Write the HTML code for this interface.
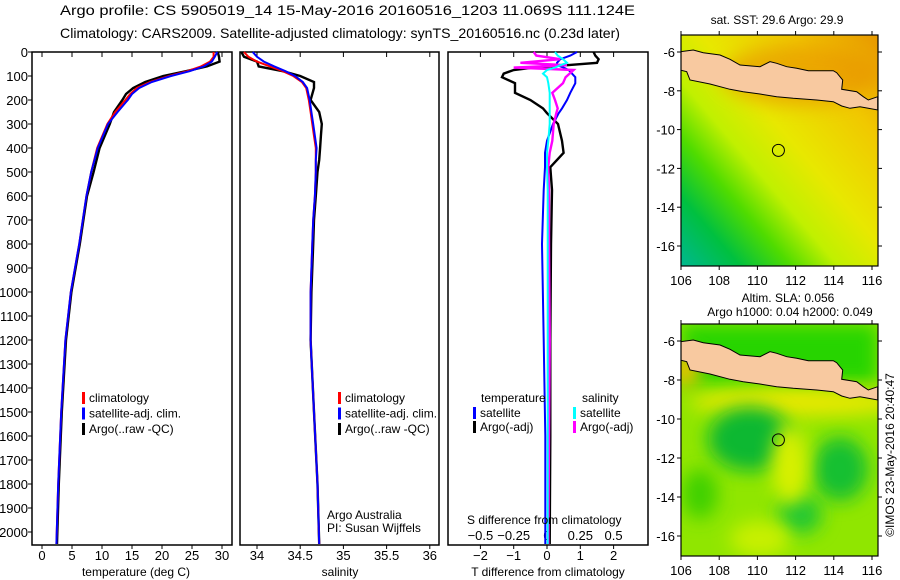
<!DOCTYPE html>
<html><head><meta charset="utf-8"><style>
html,body{margin:0;padding:0;background:#fff;}
svg{display:block;font-family:"Liberation Sans",sans-serif;}
</style></head><body>
<svg id="fig" width="900" height="580" viewBox="0 0 900 580" xmlns="http://www.w3.org/2000/svg">
<defs>
<linearGradient id="sstGrad" x1="0" y1="1" x2="1" y2="0">
<stop offset="0" stop-color="#00b890"/><stop offset="0.15" stop-color="#00c040"/><stop offset="0.28" stop-color="#50dc00"/><stop offset="0.4" stop-color="#c0f000"/><stop offset="0.55" stop-color="#e8e800"/><stop offset="0.78" stop-color="#f0c800"/><stop offset="1" stop-color="#e89800"/>
</linearGradient>
<filter id="blur" x="-50%" y="-50%" width="200%" height="200%"><feGaussianBlur stdDeviation="9"/></filter>
<clipPath id="clipTop"><rect x="681" y="35" width="197" height="231"/></clipPath>
<clipPath id="clipBot"><rect x="681" y="324" width="197" height="232"/></clipPath>
</defs>
<g id="titles" font-size="14" fill="#000">
<text x="60" y="15" textLength="575" lengthAdjust="spacingAndGlyphs">Argo profile: CS 5905019_14 15-May-2016 20160516_1203 11.069S 111.124E</text>
<text x="60" y="38" textLength="560" lengthAdjust="spacingAndGlyphs">Climatology: CARS2009. Satellite-adjusted climatology: synTS_20160516.nc (0.23d later)</text>
</g>
<g id="panels"></g>
<g id="maps"></g>
</svg>
<script>
// ---- data ----
const depthT = [0,20,40,60,80,100,125,150,175,200,250,300,400,500,600,700,800,1000,1200,1500,1800,2050];
const climT = [28.6,28.6,28.0,26.5,24.2,21.2,18.0,15.8,14.7,13.9,12.2,10.9,9.2,8.2,7.4,6.8,6.2,4.8,3.9,3.2,2.7,2.4];
const satT  = [29.2,28.8,28.3,27.0,24.6,21.5,18.3,16.2,15.0,14.3,12.6,11.0,9.3,8.2,7.4,6.8,6.2,4.8,3.9,3.2,2.7,2.4];
const argoT = [29.3,29.5,29.6,27.5,24.0,20.2,17.2,15.2,14.0,13.4,12.0,11.3,9.6,8.6,7.5,6.9,6.3,4.9,4.0,3.3,2.8,2.5];
const depthS = [0,20,40,60,80,100,125,150,200,250,300,350,400,450,500,600,700,800,1000,1200,1500,1800,2050];
const climS = [33.85,33.9,34.0,34.15,34.3,34.42,34.52,34.57,34.6,34.62,34.64,34.66,34.68,34.68,34.68,34.67,34.65,34.64,34.62,34.62,34.66,34.7,34.72];
const satS  = [33.95,34.0,34.08,34.2,34.33,34.44,34.53,34.58,34.61,34.63,34.65,34.67,34.69,34.68,34.68,34.67,34.65,34.64,34.62,34.62,34.66,34.7,34.72];
const argoS = [33.82,33.85,34.0,34.02,34.3,34.5,34.66,34.66,34.62,34.72,34.75,34.74,34.73,34.72,34.70,34.68,34.66,34.65,34.63,34.62,34.66,34.7,34.72];
const depthD = [0,15,30,45,55,65,75,90,105,130,170,200,235,255,300,370,420,480,575,800,1200,1600,2050];
const argoTd = [1.4,1.45,1.55,1.5,0.6,-0.4,-1.0,-1.3,-1.35,-0.96,-0.96,-0.5,-0.12,0,0.33,0.45,0.5,0.1,0.15,0.12,0.1,0.1,0.08];
const satTd  = [0.9,0.7,0.4,0.3,0.3,0.5,0.65,0.75,0.85,0.85,0.7,0.6,0.45,0.35,0.18,0.0,-0.06,-0.06,-0.1,-0.15,-0.1,-0.05,-0.05];
const argoSd = [-0.1,-0.08,0.1,-0.2,0.15,-0.25,0.2,0.17,0.14,0.12,0.04,0.06,0.08,0.07,0.05,0.04,0.02,0.01,0.015,0.015,0.02,0.015,0.01];
const satSd  = [0.06,0.08,0.12,0.15,0.1,0.06,0.0,-0.03,0.0,0.01,0.02,0.02,0.02,0.02,0.02,0.01,0.0,0.0,0.005,0.005,0.005,0.005,0.005];
const depthTicks = [0,100,200,300,400,500,600,700,800,900,1000,1100,1200,1300,1400,1500,1600,1700,1800,1900,2000];
const tempTicks = [0,5,10,15,20,25,30];
const salTicks = [34,34.5,35,35.5,36];
const tdTicks = [-2,-1,0,1,2];
const sdTicks = [-0.5,-0.25,0,0.25,0.5];
const lonTicks = [106,108,110,112,114,116];
const latTicks = [-6,-8,-10,-12,-14,-16];

const NS="http://www.w3.org/2000/svg";
function mk(tag, attrs, parent, txt){const e=document.createElementNS(NS,tag);for(const k in attrs)e.setAttribute(k,attrs[k]);if(txt!==undefined)e.textContent=txt;parent.appendChild(e);return e;}
const panels=document.getElementById('panels');
const Y0=52, TOP=52, BOT=545;
function ty(d){return Y0+d*0.24;}
function xT(t){return 42+t*6.0;}
function xS(s){return 257+(s-34)*86.4;}
function xTd(t){return 547+t*33.3;}
function xSd(s){return 547+s*133.2;}

depthTicks.forEach(d=>{
  const t=mk('text',{x:28,y:ty(d)+5,'font-size':13,'text-anchor':'end'},panels,String(d));
  
  
  mk('line',{x1:28,x2:32,y1:ty(d),y2:ty(d),stroke:'#000'},panels);
});

function box(x1,x2,name){const r=mk('rect',{x:x1,y:TOP,width:x2-x1,height:BOT-TOP,fill:'none',stroke:'#000','stroke-width':1.5},panels);
  
  }
box(32,232,'temperature-panel');box(240,439,'salinity-panel');box(448,648,'difference-panel');

function xticks(vals,fx,y,name){vals.forEach(v=>{const x=fx(v);
  mk('line',{x1:x,x2:x,y1:BOT,y2:BOT+4,stroke:'#000'},panels);
  mk('line',{x1:x,x2:x,y1:TOP,y2:TOP+5,stroke:'#000'},panels);
  const t=mk('text',{x:x,y:y,'font-size':13,'text-anchor':'middle'},panels,String(v).replace('-','\u2212'));
  
  });}
xticks(tempTicks,xT,560,'temperature-tick-label');
xticks(salTicks,xS,560,'salinity-tick-label');
xticks(tdTicks,xTd,560,'t-diff-tick-label');
sdTicks.forEach(v=>{const t=mk('text',{x:xSd(v),y:540,'font-size':13,'text-anchor':'middle'},panels,String(v).replace('-','\u2212'));
  
  });

function line(ds,vs,fx,color,name,w){const pts=ds.map((d,i)=>fx(vs[i]).toFixed(1)+','+ty(d).toFixed(1)).join(' ');
  const p=mk('polyline',{points:pts,fill:'none',stroke:color,'stroke-width':w||2,'stroke-linejoin':'miter'},panels);
  
  }
line(depthT,argoT,xT,'#000','argo-temperature-line',2.4);
line(depthT,climT,xT,'#f00','climatology-temperature-line');
line(depthT,satT,xT,'#00f','satellite-temperature-line');
line(depthS,argoS,xS,'#000','argo-salinity-line',2.4);
line(depthS,climS,xS,'#f00','climatology-salinity-line');
line(depthS,satS,xS,'#00f','satellite-salinity-line');
line(depthD,argoTd,xTd,'#000','argo-t-diff-line',2.4);
line(depthD,satTd,xTd,'#00f','satellite-t-diff-line');
line(depthD,argoSd,xSd,'#f0f','argo-s-diff-line',2.4);
line(depthD,satSd,xSd,'#0ff','satellite-s-diff-line');

function legend(x,y,color,label){mk('rect',{x:x,y:y-10,width:3,height:12,fill:color},panels);
  const t=mk('text',{x:x+7,y:y,'font-size':12},panels,label);
  
  }
[[82,'#f00','climatology'],[82,'#00f','satellite-adj. clim.'],[82,'#000','Argo(..raw -QC)']].forEach((l,i)=>legend(l[0],402+i*15.5,l[1],l[2]));
[[338,'#f00','climatology'],[338,'#00f','satellite-adj. clim.'],[338,'#000','Argo(..raw -QC)']].forEach((l,i)=>legend(l[0],402+i*15.5,l[1],l[2]));
let t;
t=mk('text',{x:481,y:402,'font-size':12},panels,'temperature');
t=mk('text',{x:582,y:402,'font-size':12},panels,'salinity');
legend(473,417,'#00f','satellite');legend(473,431,'#000','Argo(-adj)');
legend(573,417,'#0ff','satellite');legend(573,431,'#f0f','Argo(-adj)');
t=mk('text',{x:327,y:519,'font-size':12},panels,'Argo Australia');
t=mk('text',{x:327,y:532,'font-size':12},panels,'PI: Susan Wijffels');
t=mk('text',{x:467,y:524,'font-size':12},panels,'S difference from climatology');
t=mk('text',{x:136,y:576,'font-size':12,'text-anchor':'middle'},panels,'temperature (deg C)');
t=mk('text',{x:340,y:576,'font-size':12,'text-anchor':'middle'},panels,'salinity');
t=mk('text',{x:548,y:576,'font-size':12,'text-anchor':'middle'},panels,'T difference from climatology');

// ---- maps ----
const maps=document.getElementById('maps');
const landPts=[[60,155],[100,150],[130,158],[180,165],[210,178],[240,195],[300,200],[330,185],[350,190],[380,200],[410,205],[445,212],[520,212],[530,218],[548,240],[545,268],[590,275],[610,290],[625,300],[653,290],[653,330],[625,325],[600,320],[570,325],[545,318],[520,305],[470,300],[400,295],[350,290],[300,282],[250,275],[210,268],[150,252],[90,240],[80,215],[60,210]];
function lonX(l){return 681+(l-106)*19.1;}
function drawMap(y0,latY,clip,kind,name){
  const g=mk('g',{'clip-path':'url(#'+clip+')'},maps);
  
  
  const h=(clip==='clipTop')?231:232;
  if(kind==='sst'){
    mk('rect',{x:681,y:y0,width:197,height:h,fill:'url(#sstGrad)'},g);
    mk('ellipse',{cx:800,cy:y0+40,rx:80,ry:30,fill:'#e89000',opacity:0.6,filter:'url(#blur)'},g);
  } else {
    mk('rect',{x:681,y:y0,width:197,height:h,fill:'#90e600'},g);
    mk('rect',{x:681,y:y0,width:197,height:60,fill:'#10d000',opacity:0.8,filter:'url(#blur)'},g);
    mk('ellipse',{cx:800,cy:y0+78,rx:110,ry:14,fill:'#e8e800',filter:'url(#blur)'},g);
    mk('ellipse',{cx:686,cy:y0+45,rx:14,ry:18,fill:'#f0c000',filter:'url(#blur)'},g);
    mk('ellipse',{cx:750,cy:y0+115,rx:42,ry:32,fill:'#10b830',filter:'url(#blur)'},g);
    mk('ellipse',{cx:840,cy:y0+145,rx:28,ry:32,fill:'#18c030',filter:'url(#blur)'},g);
    mk('ellipse',{cx:800,cy:y0+190,rx:22,ry:20,fill:'#20c830',filter:'url(#blur)'},g);
    mk('ellipse',{cx:700,cy:y0+170,rx:18,ry:25,fill:'#40d000',filter:'url(#blur)'},g);
    mk('ellipse',{cx:790,cy:y0+140,rx:18,ry:40,fill:'#d8f000',filter:'url(#blur)'},g);
    mk('ellipse',{cx:760,cy:y0+215,rx:30,ry:18,fill:'#c8f000',filter:'url(#blur)'},g);
  }
  const off=(clip==='clipTop')?0:290;
  const pts=landPts.map(p=>(660+p[0]/3).toFixed(1)+','+(off+p[1]/3).toFixed(1)).join(' ');
  const land=mk('polygon',{points:pts,fill:'#f8c9a0',stroke:'#000','stroke-width':1},g);
  
  
  const fr=mk('rect',{x:681,y:y0,width:197,height:h,fill:'none',stroke:'#000','stroke-width':1.2},maps);
  
  
  const c=mk('circle',{cx:lonX(111.1),cy:latY(-11.07),r:6,fill:'none',stroke:'#000','stroke-width':1},maps);
  
  
  lonTicks.forEach(l=>{const x=lonX(l);mk('line',{x1:x,x2:x,y1:y0,y2:y0-4,stroke:'#000'},maps);mk('line',{x1:x,x2:x,y1:y0+h,y2:y0+h+4,stroke:'#000'},maps);
    const tt=mk('text',{x:x,y:y0+h+19,'font-size':13,'text-anchor':'middle'},maps,String(l));
    
    });
  latTicks.forEach(l=>{const y=latY(l);mk('line',{x1:677,x2:681,y1:y,y2:y,stroke:'#000'},maps);mk('line',{x1:878,x2:882,y1:y,y2:y,stroke:'#000'},maps);
    const tt=mk('text',{x:675,y:y+5,'font-size':13,'text-anchor':'end'},maps,String(l));
    
    });
}
drawMap(35,l=>52+(-6-l)*19.4,'clipTop','sst','sst-map');
drawMap(324,l=>341+(-6-l)*19.5,'clipBot','sla','sla-map');
t=mk('text',{x:777,y:24,'font-size':12,'text-anchor':'middle'},maps,'sat. SST: 29.6 Argo: 29.9');
t=mk('text',{x:788,y:302,'font-size':12,'text-anchor':'middle'},maps,'Altim. SLA: 0.056');
t=mk('text',{x:790,y:316,'font-size':12,'text-anchor':'middle'},maps,'Argo h1000: 0.04 h2000: 0.049');
t=mk('text',{x:0,y:0,'font-size':12,'text-anchor':'middle',transform:'translate(894,455) rotate(-90)'},maps,'\u00A9IMOS 23-May-2016 20:40:47');
</script>
</body></html>
